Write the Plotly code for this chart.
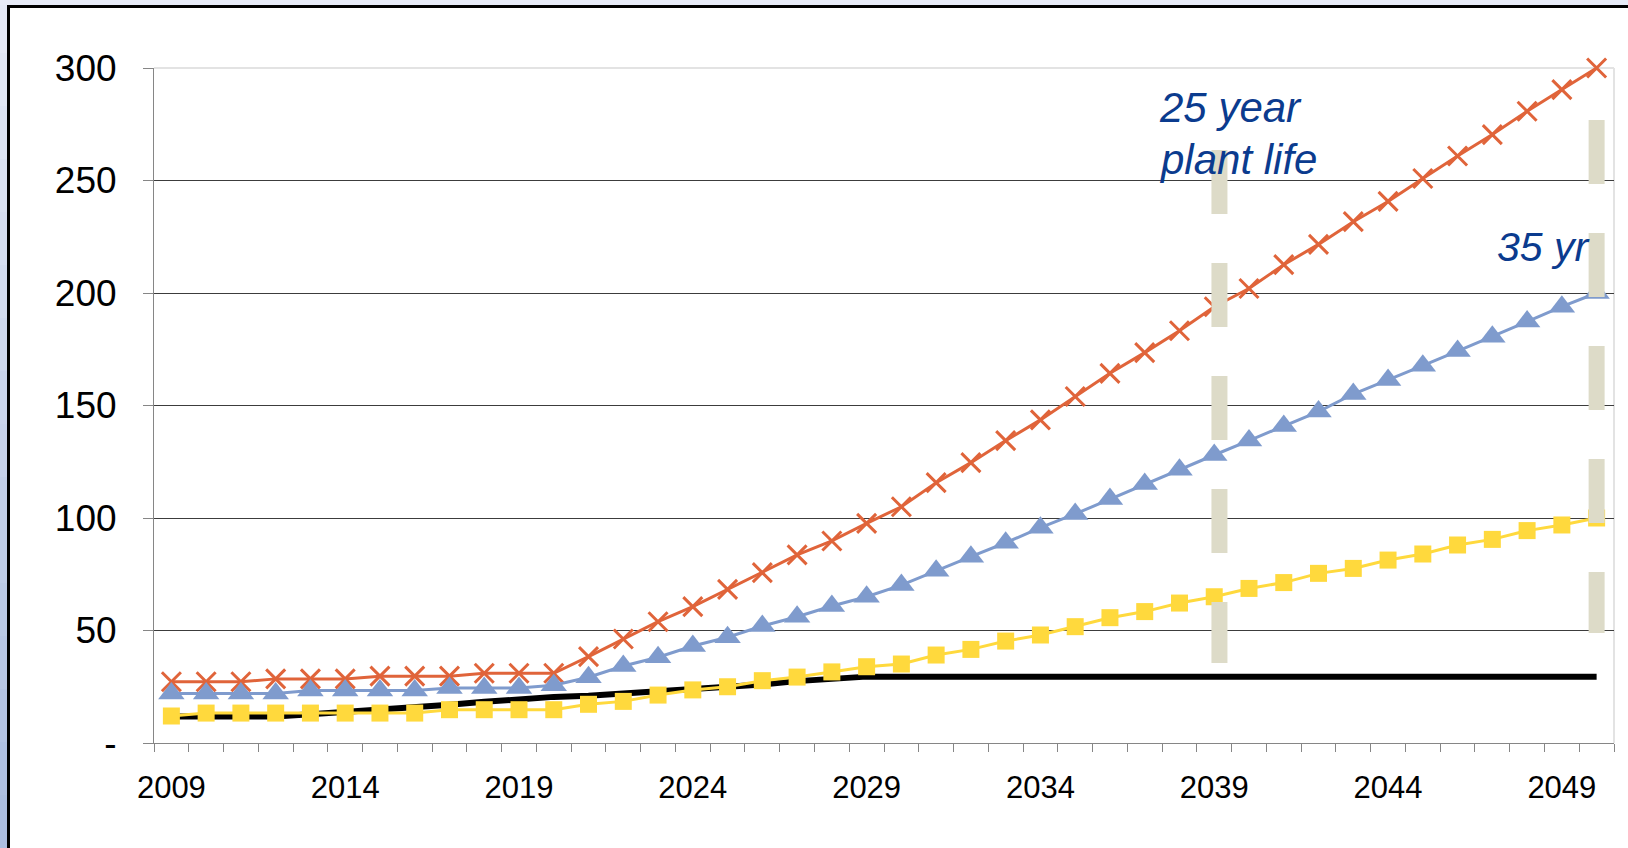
import plotly.graph_objects as go

# ---- data -------------------------------------------------------------
years = list(range(2009, 2051))

series_25yr = [27.2, 27.2, 27.2, 28.5, 28.5, 28.5, 29.7, 29.7, 29.7, 31.0, 31.0, 31.0,
               38.4, 46.2, 53.9, 60.6, 68.3, 75.7, 83.6, 89.8, 97.6, 105.0,
               115.7, 124.6, 134.4, 143.6, 154.0, 164.3, 173.5, 183.2, 193.9, 202.0,
               212.6, 221.6, 231.7, 240.7, 250.9, 260.9, 270.4, 280.8, 290.4, 300.0]

series_35yr = [22.0, 22.0, 22.0, 22.0, 23.3, 23.3, 23.3, 23.3, 24.5, 24.5, 24.5, 25.7,
               29.2, 34.2, 38.1, 43.1, 47.0, 52.0, 56.1, 60.9, 65.0, 70.2,
               76.6, 82.8, 89.0, 95.7, 101.8, 108.4, 115.1, 121.4, 128.0, 134.4,
               140.9, 147.3, 155.1, 161.3, 167.7, 174.2, 180.6, 187.3, 193.9, 200.0]

series_low = [12.0, 13.3, 13.3, 13.3, 13.3, 13.3, 13.3, 13.3, 14.8, 14.8, 14.8, 14.8,
              17.2, 18.5, 21.3, 23.6, 25.0, 27.7, 29.3, 31.6, 33.9, 35.1,
              39.1, 41.6, 45.3, 48.0, 51.7, 55.7, 58.4, 62.2, 65.0, 68.7,
              71.3, 75.4, 77.6, 81.3, 84.0, 88.0, 90.5, 94.4, 96.9, 100.0]

series_base = [11.8, 11.8, 11.8, 11.8, 12.8, 13.8, 15.0, 15.5, 17.0, 18.3, 19.5, 20.5,
               21.0, 22.0, 23.0, 23.8, 24.6, 26.0, 27.5, 28.7] + [29.5] * 22

# plant-life marker bars: year, upper and lower value
life_years = [2039.15, 2050]
life_top = [263.6, 276.9]
life_bottom = [35.6, 48.9]

y_ticks = [0, 50, 100, 150, 200, 250, 300]
y_labels = ["-", "50", "100", "150", "200", "250", "300"]
x_ticks = [2009, 2014, 2019, 2024, 2029, 2034, 2039, 2044, 2049]
x_labels = [str(v) for v in x_ticks]

# ---- geometry of the page --------------------------------------------
W, H = 1628, 848
L, R, T, B = 154, 14, 68, 105
PW, PH = W - L - R, H - T - B


def px_x(px):
    return (px - L) / PW


def px_y(py):
    return (H - B - py) / PH


FONT = "Liberation Sans, Arial, sans-serif"
RED = "#E0643A"
BLUE = "#7F9BCD"
YELLOW = "#FFD93D"
NAVY = "#0B3B8E"
BAR = "#DDDBC8"

fig = go.Figure()

fig.add_trace(go.Scatter(x=years, y=series_base, mode="lines",
                         line=dict(color="#000000", width=6),
                         cliponaxis=False, showlegend=False))
fig.add_trace(go.Scatter(x=years, y=series_25yr, mode="lines+markers",
                         line=dict(color=RED, width=3),
                         marker=dict(symbol="x-thin", size=19,
                                     line=dict(color=RED, width=3)),
                         cliponaxis=False, showlegend=False))
fig.add_trace(go.Scatter(x=years, y=series_35yr, mode="lines+markers",
                         line=dict(color=BLUE, width=3),
                         marker=dict(symbol="triangle-up", size=23, color=BLUE,
                                     line=dict(width=0)),
                         cliponaxis=False, showlegend=False))
fig.add_trace(go.Scatter(x=years, y=series_low, mode="lines+markers",
                         line=dict(color=YELLOW, width=3),
                         marker=dict(symbol="square", size=17, color=YELLOW,
                                     line=dict(width=0)),
                         cliponaxis=False, showlegend=False))

shapes = []

# frame around the page: shaded strips plus a black rule on the left and top
n_bands = 16
for i in range(n_bands):
    t = i / (n_bands - 1)
    r = int(228 + (172 - 228) * t)
    g = int(233 + (190 - 233) * t)
    b = int(246 + (224 - 246) * t)
    shapes.append(dict(type="rect", xref="paper", yref="paper",
                       x0=px_x(0), x1=px_x(7),
                       y0=px_y(H * i / n_bands), y1=px_y(H * (i + 1) / n_bands),
                       fillcolor=f"rgb({r},{g},{b})", line=dict(width=0), layer="below"))
shapes.append(dict(type="rect", xref="paper", yref="paper",
                   x0=px_x(0), x1=px_x(W), y0=px_y(0), y1=px_y(5),
                   fillcolor="#E7EBF7", line=dict(width=0), layer="below"))
shapes.append(dict(type="rect", xref="paper", yref="paper",
                   x0=px_x(7), x1=px_x(10), y0=px_y(5), y1=px_y(H),
                   fillcolor="#000000", line=dict(width=0), layer="below"))
shapes.append(dict(type="rect", xref="paper", yref="paper",
                   x0=px_x(7), x1=px_x(W), y0=px_y(5), y1=px_y(8),
                   fillcolor="#000000", line=dict(width=0), layer="below"))

# light border of the plot area (top and right)
shapes.append(dict(type="line", xref="paper", yref="paper", x0=0, x1=1, y0=1, y1=1,
                   line=dict(color="#E3E3E3", width=2), layer="between"))
shapes.append(dict(type="line", xref="paper", yref="paper", x0=1, x1=1, y0=0, y1=1,
                   line=dict(color="#E3E3E3", width=2), layer="between"))

# dashed plant-life bars
for xv, y_top, y_bot in zip(life_years, life_top, life_bottom):
    shapes.append(dict(type="line", xref="x", yref="y", x0=xv, x1=xv, y0=y_top, y1=y_bot,
                       line=dict(color=BAR, width=16, dash="64px,49px"), layer="above"))

annotations = [
    dict(text="25 year", xref="paper", yref="paper", x=px_x(1157), y=px_y(108),
         xanchor="left", yanchor="middle", showarrow=False,
         font=dict(family=FONT, size=42, color=NAVY, style="italic")),
    dict(text="plant life", xref="paper", yref="paper", x=px_x(1157), y=px_y(159),
         xanchor="left", yanchor="middle", showarrow=False,
         font=dict(family=FONT, size=42, color=NAVY, style="italic")),
    dict(text="35 yr", xref="paper", yref="paper", x=px_x(1495), y=px_y(247),
         xanchor="left", yanchor="middle", showarrow=False,
         font=dict(family=FONT, size=41, color=NAVY, style="italic")),
]

fig.update_layout(
    width=W, height=H,
    margin=dict(l=L, r=R, t=T, b=B, pad=0),
    paper_bgcolor="#FFFFFF",
    plot_bgcolor="#FFFFFF",
    font=dict(family=FONT, color="#000000"),
    shapes=shapes,
    annotations=annotations,
    showlegend=False,
)

fig.update_xaxes(
    range=[2008.5, 2050.5],
    tickmode="array", tickvals=x_ticks, ticktext=x_labels,
    ticks="outside", ticklen=0, ticklabelstandoff=17,
    tickfont=dict(family=FONT, size=31, color="#000000"),
    showgrid=False, zeroline=False,
    showline=True, linecolor="#868686", linewidth=1,
    minor=dict(ticks="outside", ticklen=8, tick0=2008.5, dtick=1,
               tickcolor="#868686", tickwidth=1, showgrid=False),
    fixedrange=True,
)
fig.update_yaxes(
    range=[0, 300],
    tickmode="array", tickvals=y_ticks, ticktext=y_labels,
    ticks="outside", ticklen=10, tickcolor="#868686", ticklabelstandoff=19,
    tickfont=dict(family=FONT, size=37, color="#000000"),
    showgrid=True, gridcolor="#3C3C3C", gridwidth=1,
    zeroline=False,
    showline=True, linecolor="#868686", linewidth=1,
    fixedrange=True,
)

fig.write_html("out.html")
